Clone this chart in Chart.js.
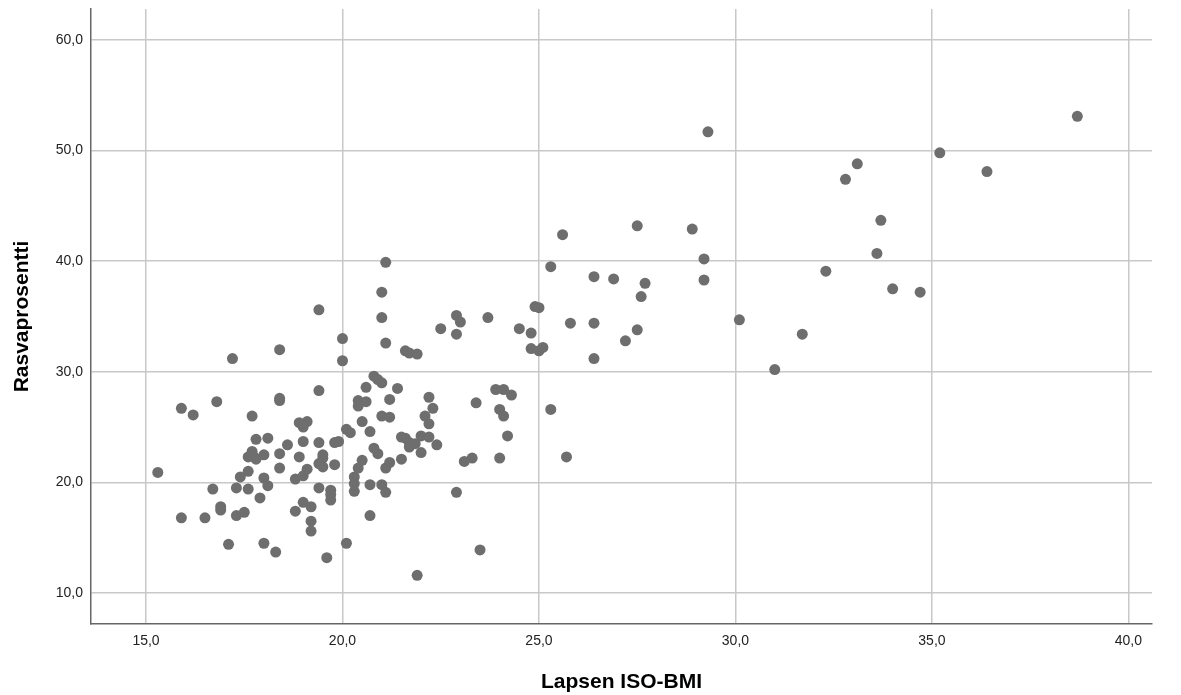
<!DOCTYPE html>
<html lang="fi">
<head>
  <meta charset="UTF-8" />
  <title>Lapsen ISO-BMI vs Rasvaprosentti</title>
  <script src="https://cdn.jsdelivr.net/npm/chart.js"></script>
  <style>
    body { margin: 0; background: #fff; }
    canvas { display: block; }
  </style>
</head>
<body>
  <canvas id="scatter" width="1181" height="695"></canvas>

  <script>
    // Lapsen ISO-BMI (x) and Rasvaprosentti (y)
    const bmi = [
      15.3, 15.9, 16.2, 16.8, 17.2, 18.4, 18.4, 18.4, 17.7, 19.4,
      18.9, 19.1, 19.0, 17.8, 18.1, 19.0, 19.4, 18.6, 17.7, 17.6,
      17.75, 17.8, 18.0, 18.4, 18.9, 19.5, 19.5, 19.4, 19.5, 18.4,
      17.6, 17.4, 18.0, 18.1, 18.8, 19.0, 19.1, 16.7, 17.3, 17.6,
      17.9, 19.4, 16.9, 16.9, 17.3, 17.5, 15.9, 16.5, 18.8, 19.0,
      19.2, 19.2, 19.2, 17.1, 18.0, 18.3, 19.6, 19.4, 20.0, 20.0,
      19.9, 19.8, 19.8, 19.7, 19.7, 19.7, 20.1, 20.2, 20.1, 20.7,
      20.3, 20.3, 20.3, 20.4, 20.5, 20.7, 21.0, 21.1, 21.1, 21.2,
      21.5, 22.0, 20.9, 20.8, 21.9, 21.1, 21.0, 21.0, 21.1, 21.6,
      21.7, 21.9, 20.8, 20.9, 21.0, 20.6, 21.4, 21.2, 20.4, 20.6,
      20.4, 21.0, 21.2, 20.5, 20.7, 21.5, 21.6, 21.7, 21.7, 21.85,
      22.0, 22.2, 22.4, 22.2, 22.3, 22.1, 22.2, 22.5, 22.9, 23.0,
      23.7, 22.9, 24.5, 24.8, 24.9, 25.0, 24.8, 25.0, 25.1, 25.3,
      23.4, 23.9, 24.1, 24.3, 24.0, 24.1, 24.2, 24.0, 23.1, 23.3,
      22.9, 23.5, 25.3, 25.6, 27.5, 28.9, 29.3, 33.1, 32.8, 26.4,
      26.9, 27.7, 27.6, 29.2, 29.2, 32.3, 25.8, 26.4, 27.5, 27.2,
      26.4, 30.1, 31.7, 31.0, 38.7, 35.2, 36.4, 33.7, 33.6, 34.0,
      34.7, 25.7
    ];
    const fat = [
      20.9, 26.7, 26.1, 27.3, 31.2, 32.0, 27.6, 27.4, 26.0, 28.3,
      25.4, 25.5, 25.0, 23.9, 24.0, 23.7, 23.6, 23.4, 22.8, 22.3,
      22.3, 22.1, 22.5, 22.6, 22.3, 22.5, 22.2, 21.7, 21.4, 21.3,
      21.0, 20.5, 20.4, 19.7, 20.3, 20.6, 21.2, 19.4, 19.5, 19.4,
      18.6, 19.5, 17.8, 17.5, 17.0, 17.3, 16.8, 16.8, 17.4, 18.2,
      17.8, 16.5, 15.6, 14.4, 14.5, 13.7, 13.2, 35.6, 33.0, 31.0,
      23.7, 23.6, 21.6, 19.3, 18.9, 18.4, 24.8, 24.5, 14.5, 17.0,
      20.5, 19.9, 19.2, 21.3, 22.0, 19.8, 19.8, 19.1, 21.3, 21.8,
      22.1, 22.7, 22.6, 23.1, 11.6, 39.9, 37.2, 34.9, 32.6, 31.9,
      31.7, 31.6, 29.6, 29.3, 29.0, 28.6, 28.5, 27.5, 27.4, 27.3,
      26.9, 26.0, 25.9, 25.5, 24.6, 24.1, 24.0, 23.6, 23.2, 23.5,
      24.2, 24.1, 23.4, 27.7, 26.7, 26.0, 25.3, 33.9, 35.1, 34.5,
      34.9, 33.4, 33.9, 33.5, 35.9, 35.8, 32.1, 31.9, 32.2, 26.6,
      27.2, 28.4, 28.4, 27.9, 26.6, 26.0, 24.2, 22.2, 21.9, 22.2,
      19.1, 13.9, 39.5, 42.4, 43.2, 42.9, 51.7, 48.8, 47.4, 38.6,
      38.4, 38.0, 36.8, 40.2, 38.3, 39.1, 34.4, 34.4, 33.8, 32.8,
      31.2, 34.7, 33.4, 30.2, 53.1, 49.8, 48.1, 43.7, 40.7, 37.5,
      37.2, 22.3
    ];

    const xTicks = [15, 20, 25, 30, 35, 40];
    const yTicks = [10, 20, 30, 40, 50, 60];

    const fmt = v => v.toFixed(1).replace('.', ',');

    Chart.defaults.font.family = "'Liberation Sans', Arial, sans-serif";

    const points = bmi.map((x, i) => ({ x: x, y: fat[i] }));

    new Chart(document.getElementById('scatter'), {
      type: 'scatter',
      data: {
        datasets: [{
          data: points,
          backgroundColor: '#6e6e6e',
          borderWidth: 0,
          pointRadius: 5.5,
          pointHoverRadius: 5.5
        }]
      },
      options: {
        responsive: false,
        animation: false,
        layout: { padding: { top: 9, right: 29, left: 0, bottom: 0 } },
        plugins: {
          legend: { display: false },
          tooltip: { enabled: false }
        },
        scales: {
          x: {
            type: 'linear',
            min: 13.6,
            max: 40.6,
            afterBuildTicks: s => { s.ticks = xTicks.map(v => ({ value: v })); },
            afterFit: s => { s.height = 71; s.paddingLeft = 0; s.paddingRight = 0; },
            grid: { color: '#c8c8c8', lineWidth: 1.5, drawTicks: false },
            border: { color: '#666', width: 1.5 },
            ticks: {
              padding: 9,
              color: '#222',
              font: { size: 14 },
              maxRotation: 0,
              callback: v => fmt(v)
            },
            title: {
              display: true,
              text: 'Lapsen ISO-BMI',
              color: '#000',
              font: { size: 21, weight: 'bold' },
              padding: { top: 0, bottom: 0 }
            }
          },
          y: {
            type: 'linear',
            min: 7.2,
            max: 62.8,
            afterBuildTicks: s => { s.ticks = yTicks.map(v => ({ value: v })); },
            afterFit: s => { s.width = 91; s.paddingTop = 0; s.paddingBottom = 0; },
            grid: { color: '#c8c8c8', lineWidth: 1.5, drawTicks: false },
            border: { color: '#666', width: 1.5 },
            ticks: {
              padding: 8,
              color: '#222',
              font: { size: 14 },
              callback: v => fmt(v)
            },
            title: {
              display: true,
              text: 'Rasvaprosentti',
              color: '#000',
              font: { size: 21, weight: 'bold' },
              padding: { top: 10, bottom: 0 }
            }
          }
        }
      }
    });
  </script>
</body>
</html>
